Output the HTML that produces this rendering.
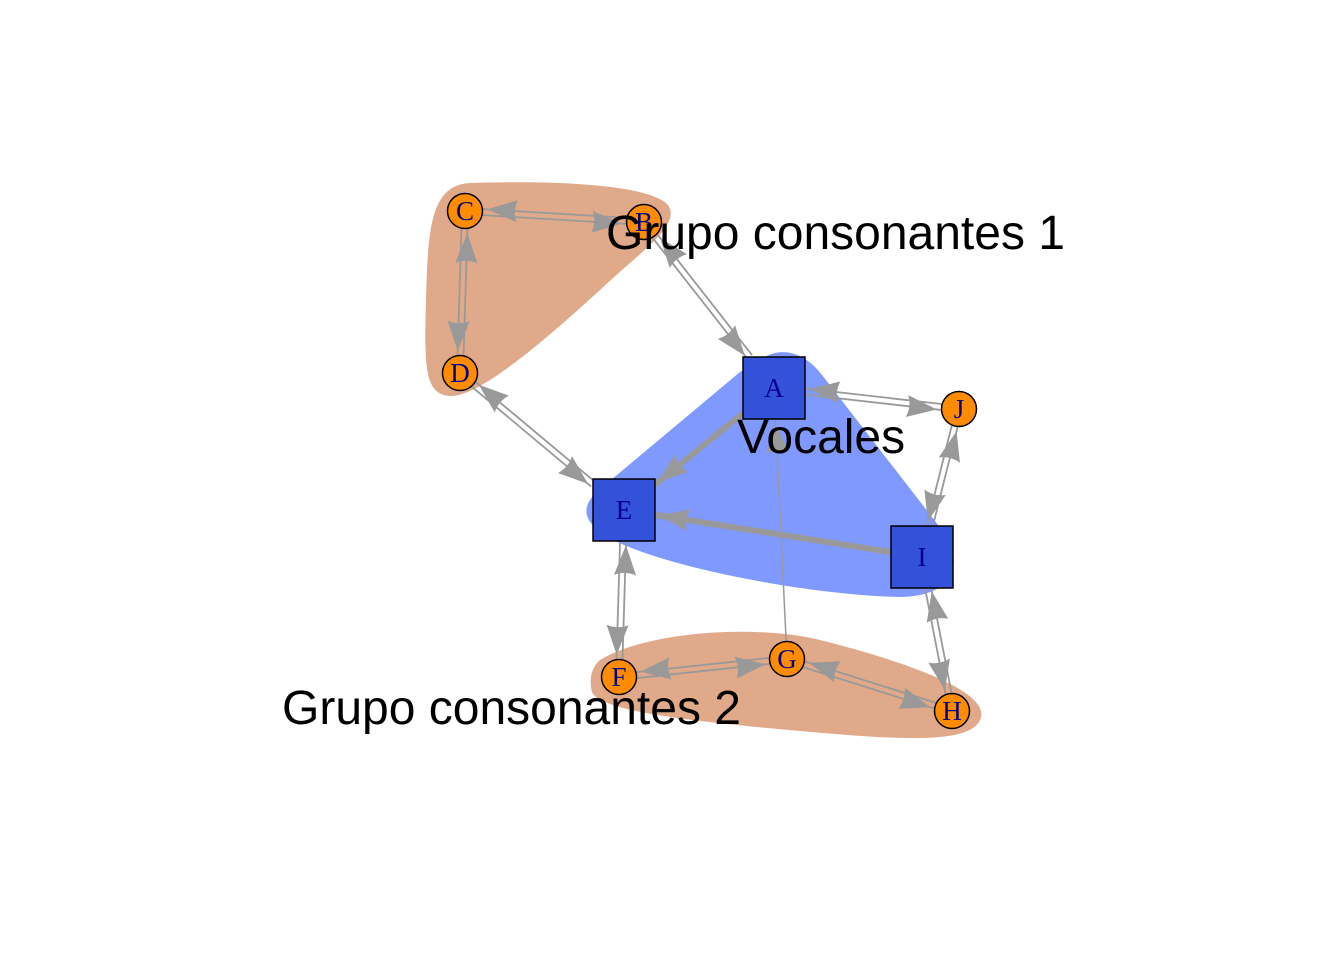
<!DOCTYPE html>
<html><head><meta charset="utf-8"><style>
html,body{margin:0;padding:0;background:#fff;}
svg{display:block;}
.lbl{font-family:"Liberation Sans",sans-serif;font-size:48px;fill:#000;}
.nl{font-family:"Liberation Serif",serif;font-size:27px;fill:#00008b;text-anchor:middle;}
</style></head><body>
<svg id="s" width="1344" height="960" viewBox="0 0 1344 960" xmlns="http://www.w3.org/2000/svg">
<path d="M470,183 C560,180 650,185 668,205 C682,225 640,252 600,290 C540,345 480,395 452,396 C425,396 424,370 426,300 C428,230 430,185 470,183 Z" fill="#dfa98a"/>
<path d="M760,360 C780,345 805,352 822,375 L942,530 C962,556 962,596 900,597 C800,595 640,562 600,532 C578,515 585,500 605,485 L740,372 Z" fill="#8099ff"/>
<path d="M600,660 C650,630 760,625 820,640 C900,660 988,690 981,717 C975,745 900,740 800,731 C700,722 600,712 592,692 C588,676 594,665 600,660 Z" fill="#dfa98a"/>
<g id="edges"></g>
<g id="nodes"></g>
<text class="lbl" x="606" y="249">Grupo consonantes 1</text>
<text class="lbl" x="737" y="453">Vocales</text>
<text class="lbl" x="282" y="724">Grupo consonantes 2</text>
</svg>
<script>
var N={C:[465,211,'c'],B:[644,222,'c'],D:[460,373,'c'],A:[774,388,'s'],J:[959,409,'c'],E:[624,510,'s'],I:[922,557,'s'],F:[619,677,'c'],G:[787,659,'c'],H:[952,711,'c']};
var eg=document.getElementById('edges'),ng=document.getElementById('nodes'),NS='http://www.w3.org/2000/svg';
function el(t,a,p){var e=document.createElementNS(NS,t);for(var k in a)e.setAttribute(k,a[k]);p.appendChild(e);return e;}
function rad(n,dx,dy){if(n[2]=='c')return 18;var m=Math.max(Math.abs(dx),Math.abs(dy));return 31*Math.hypot(dx,dy)/m;}
function edge(a,b,off,w){var P=N[a],Q=N[b];var dx=Q[0]-P[0],dy=Q[1]-P[1],L=Math.hypot(dx,dy),ux=dx/L,uy=dy/L,px=-uy*off,py=ux*off;
var r1=rad(P,dx,dy),r2=rad(Q,dx,dy);
var sx=P[0]+ux*r1+px,sy=P[1]+uy*r1+py,tx=Q[0]-ux*(r2+4)+px,ty=Q[1]-uy*(r2+4)+py;
var hl=30,hw=11;var bx=tx-ux*hl,by=ty-uy*hl;
el('line',{x1:sx,y1:sy,x2:Q[0]-ux*r2+px,y2:Q[1]-uy*r2+py,stroke:'#999','stroke-width':w},eg);
var nx=-uy,ny=ux;var cx=tx-ux*hl*0.85,cy=ty-uy*hl*0.85;
el('path',{d:'M'+tx+','+ty+' L'+(bx+nx*hw)+','+(by+ny*hw)+' Q'+cx+','+cy+' '+(bx-nx*hw)+','+(by-ny*hw)+' Z',fill:'#999'},eg);}
function pair(a,b){edge(a,b,3,1.8);edge(b,a,3,1.8);}
pair('C','B');pair('C','D');pair('B','A');pair('D','E');pair('A','J');pair('J','I');pair('E','F');pair('F','G');pair('G','H');pair('I','H');
edge('A','E',0,6);edge('I','E',0,6);edge('G','A',0,1.5);
for(var k in N){var n=N[k];if(n[2]=='c')el('circle',{cx:n[0],cy:n[1],r:17.5,fill:'#ff8c00',stroke:'#000','stroke-width':1.5},ng);
else el('rect',{x:n[0]-31,y:n[1]-31,width:62,height:62,fill:'#3352d9',stroke:'#000','stroke-width':1.5},ng);
var t=el('text',{x:n[0],y:n[1]+9,'class':'nl'},ng);t.textContent=k;}
</script>
</body></html>
